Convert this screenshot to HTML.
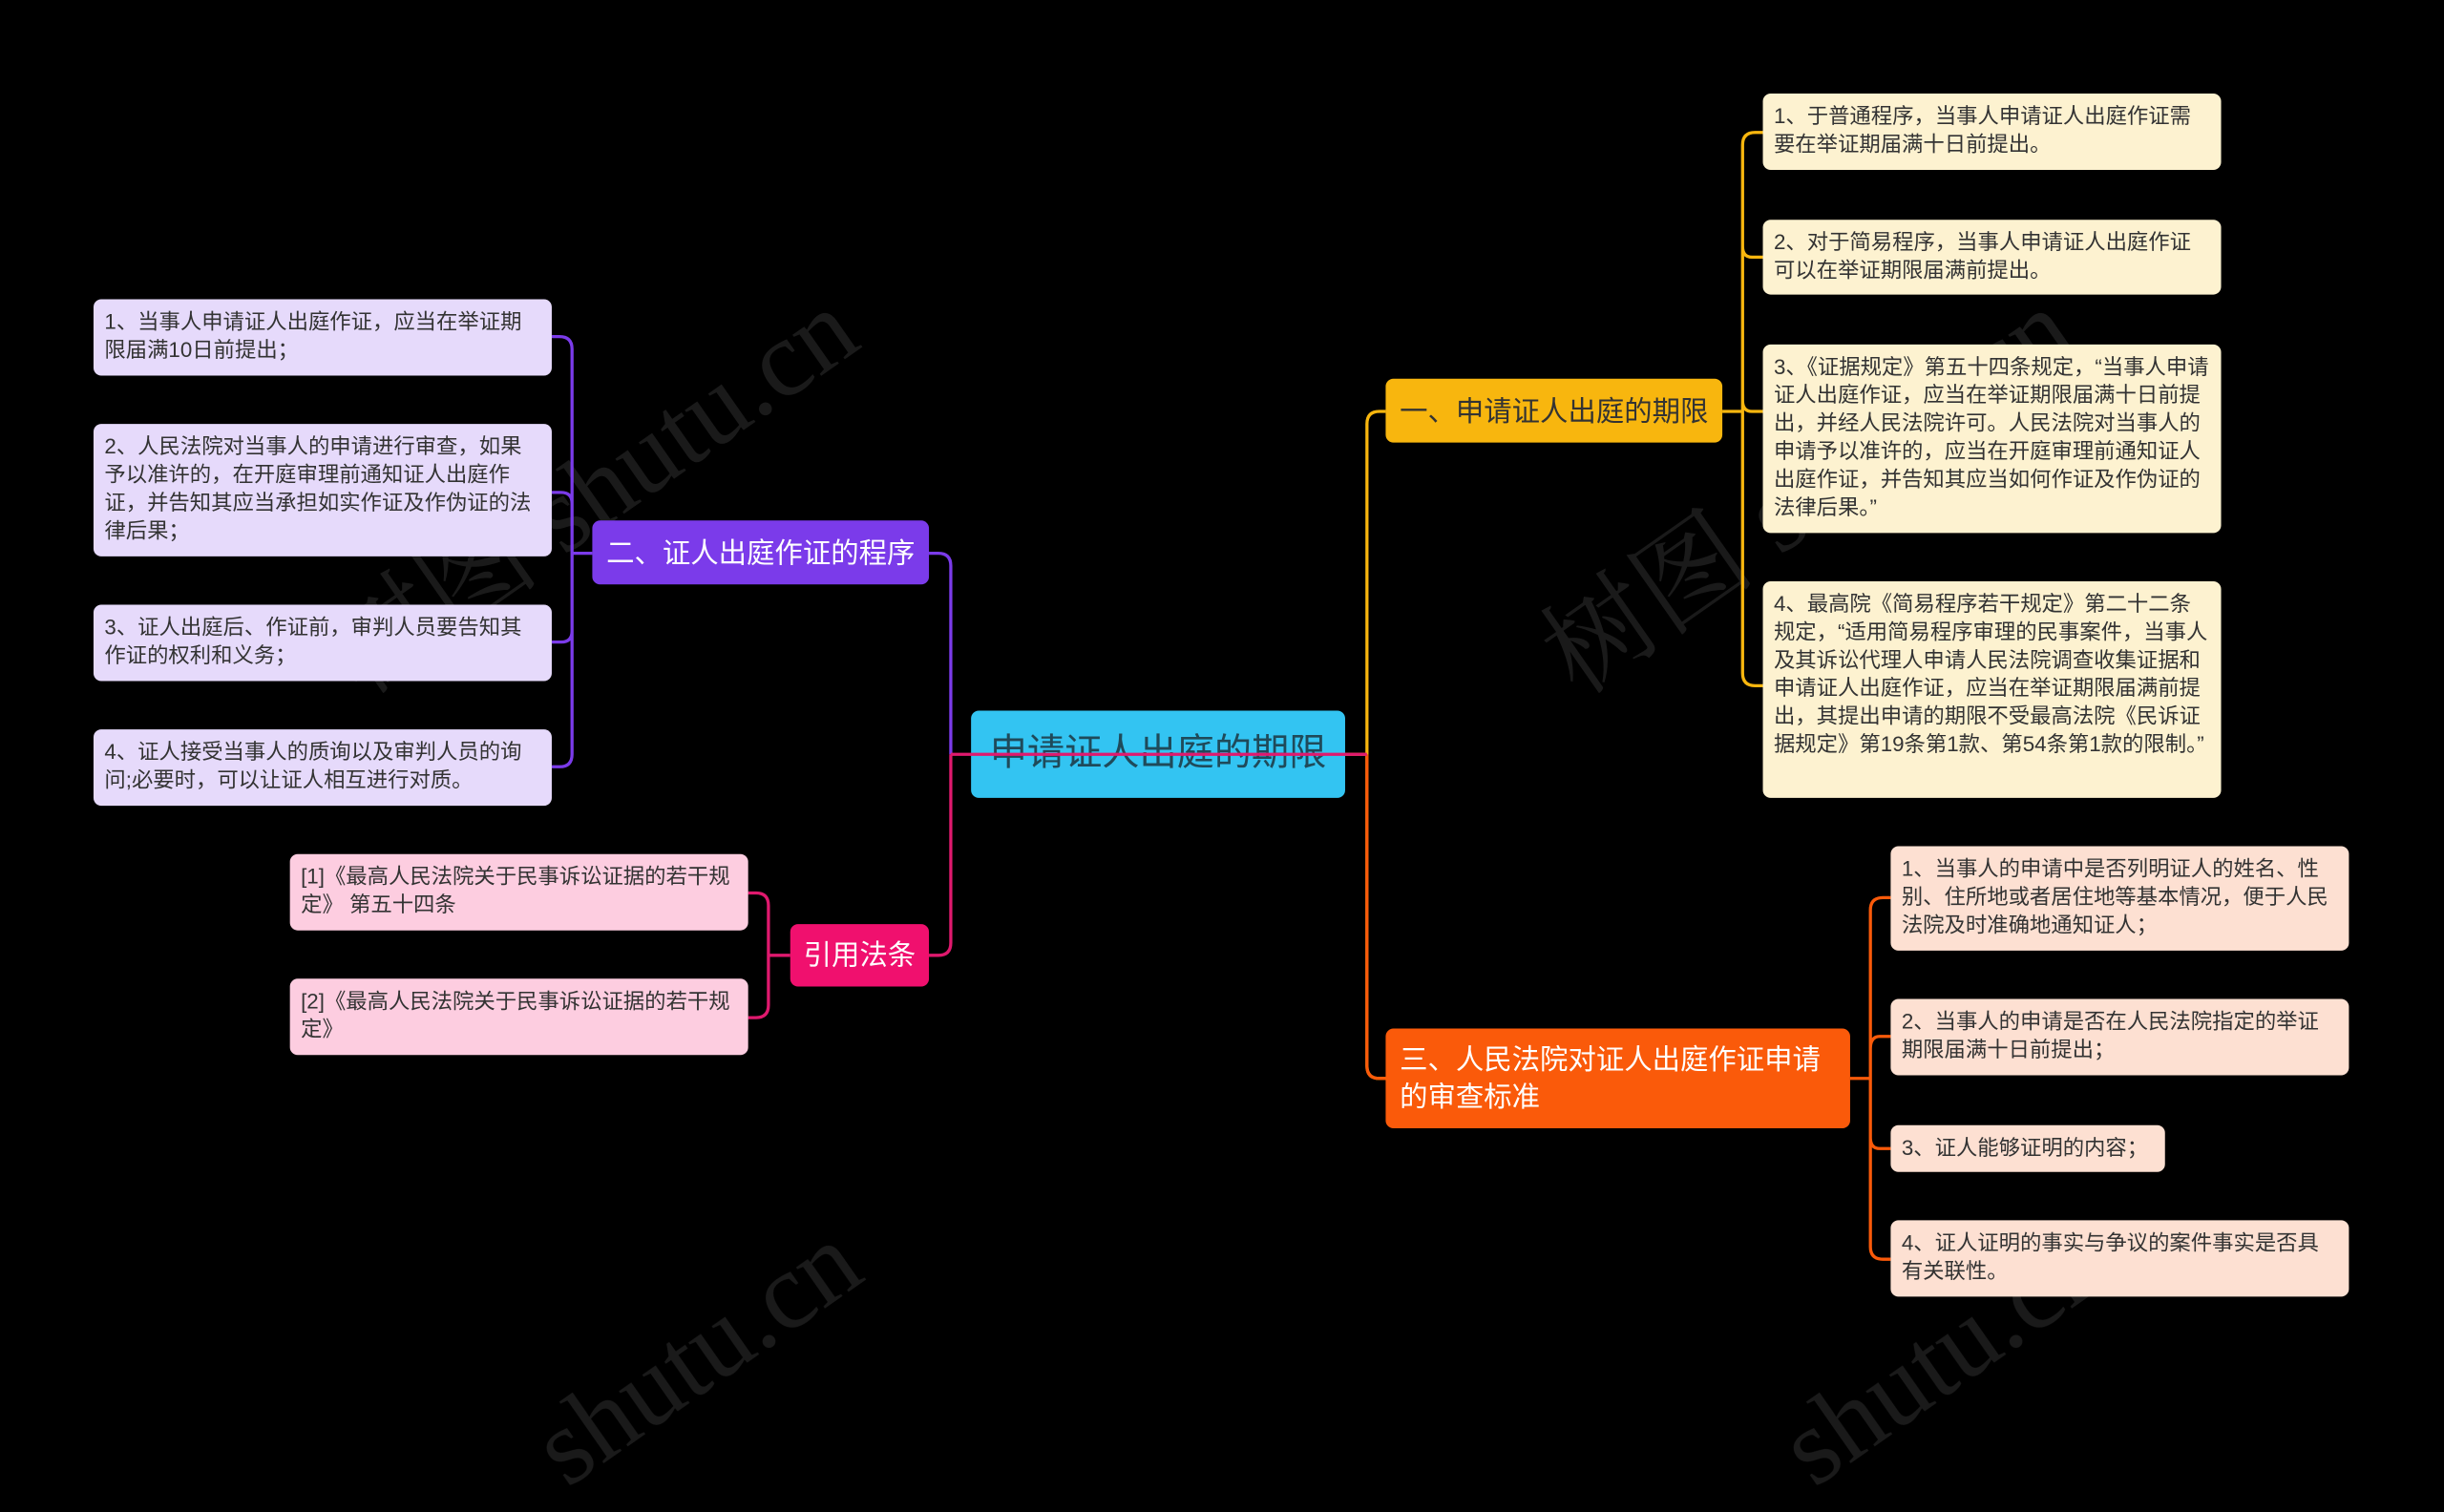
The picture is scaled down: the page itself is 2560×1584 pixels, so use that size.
<!DOCTYPE html>
<html><head><meta charset="utf-8"><style>
html,body{margin:0;padding:0;background:#000;width:2560px;height:1458px;overflow:hidden}
#w{position:absolute;left:0;top:0;width:1568px;height:893px;transform:scale(1.63265);transform-origin:0 0;font-family:"Liberation Sans","Noto Sans CJK SC",sans-serif}
.n{position:absolute;box-sizing:border-box;border-radius:5px;font-size:13.7px;line-height:18px;color:#333;padding:6px 7px;overflow:hidden;letter-spacing:0}
.b{font-size:18px;line-height:24px;padding:0 9px;display:flex;align-items:center}
.wm{position:absolute;color:#1a1a1a;font-size:70px;transform:rotate(-35deg);white-space:nowrap;font-family:"Liberation Serif","Noto Serif CJK SC",serif}
svg{position:absolute;left:0;top:0}
</style></head><body><div id="w">
<div class="wm" style="left:180px;top:260px">树图 shutu.cn</div>
<div class="wm" style="left:960px;top:260px">树图 shutu.cn</div>
<div class="wm" style="left:330px;top:830px">shutu.cn</div>
<div class="wm" style="left:1130px;top:830px">shutu.cn</div>
<svg width="1568" height="893" fill="none" stroke-width="2">
<path d="M863 484H877M877 272V684M877 272Q877 264 885 264H889M877 684Q877 692 885 692H889" stroke="#f8b60e"/>
<path d="M877 484V684Q877 692 885 692H889" stroke="#fa5a0a"/>
<path d="M1105 264H1118M1118 93Q1118 85 1126 85H1131M1118 158Q1118 165 1124 165H1131M1118 93V432Q1118 440 1126 440H1131M1118 257Q1118 264 1124 264H1131" stroke="#f8b60e"/>
<path d="M1187 692H1200M1200 584Q1200 576 1208 576H1213M1200 673Q1200 665 1206 665H1213M1200 584V800Q1200 808 1208 808H1213M1200 730Q1200 737 1206 737H1213" stroke="#fa5a0a"/>
<path d="M596 355H602Q610 355 610 363V484" stroke="#7b3bea"/>
<path d="M610 484V605Q610 613 602 613H596" stroke="#e0196e"/>
<path d="M380 355H367M354 216H359Q367 216 367 224V484Q367 492 359 492H354M354 316H360Q367 316 367 323M354 412H360Q367 412 367 405" stroke="#7b3bea"/>
<path d="M507 613H493M480 573H485Q493 573 493 581V645Q493 653 485 653H480" stroke="#e0196e"/>
</svg>
<div class="n b" style="left:623px;top:456px;width:240px;height:56px;background:#33c4f2;color:#1f4a5a;font-size:24px;justify-content:center">申请证人出庭的期限</div>
<div class="n b" style="left:889px;top:243px;width:216px;height:41px;background:#f8b60e;color:#333">一、申请证人出庭的期限</div>
<div class="n b" style="left:889px;top:660px;width:298px;height:64px;background:#fa5a0a;color:#fff">三、人民法院对证人出庭作证申请的审查标准</div>
<div class="n b" style="left:380px;top:334px;width:216px;height:41px;background:#7b3bea;color:#fff">二、证人出庭作证的程序</div>
<div class="n b" style="left:507px;top:593px;width:89px;height:40px;background:#f0106e;color:#fff;justify-content:center;padding:0;white-space:nowrap">引用法条</div>

<div class="n" style="left:1131px;top:60px;width:294px;height:49px;background:#fdf2d0">1、于普通程序，当事人申请证人出庭作证需要在举证期届满十日前提出。</div>
<div class="n" style="left:1131px;top:141px;width:294px;height:48px;background:#fdf2d0">2、对于简易程序，当事人申请证人出庭作证可以在举证期限届满前提出。</div>
<div class="n" style="left:1131px;top:221px;width:294px;height:121px;background:#fdf2d0">3、《证据规定》第五十四条规定，“当事人申请证人出庭作证，应当在举证期限届满十日前提出，并经人民法院许可。人民法院对当事人的申请予以准许的，应当在开庭审理前通知证人出庭作证，并告知其应当如何作证及作伪证的法律后果。”</div>
<div class="n" style="left:1131px;top:373px;width:294px;height:139px;background:#fdf2d0">4、最高院《简易程序若干规定》第二十二条规定，“适用简易程序审理的民事案件，当事人及其诉讼代理人申请人民法院调查收集证据和申请证人出庭作证，应当在举证期限届满前提出，其提出申请的期限不受最高法院《民诉证据规定》第19条第1款、第54条第1款的限制。”</div>

<div class="n" style="left:1213px;top:543px;width:294px;height:67px;background:#fde0d2">1、当事人的申请中是否列明证人的姓名、性别、住所地或者居住地等基本情况，便于人民法院及时准确地通知证人；</div>
<div class="n" style="left:1213px;top:641px;width:294px;height:49px;background:#fde0d2">2、当事人的申请是否在人民法院指定的举证期限届满十日前提出；</div>
<div class="n" style="left:1213px;top:722px;width:176px;height:30px;background:#fde0d2">3、证人能够证明的内容；</div>
<div class="n" style="left:1213px;top:783px;width:294px;height:49px;background:#fde0d2">4、证人证明的事实与争议的案件事实是否具有关联性。</div>

<div class="n" style="left:60px;top:192px;width:294px;height:49px;background:#e6dafb">1、当事人申请证人出庭作证，应当在举证期限届满10日前提出；</div>
<div class="n" style="left:60px;top:272px;width:294px;height:85px;background:#e6dafb">2、人民法院对当事人的申请进行审查，如果予以准许的，在开庭审理前通知证人出庭作证，并告知其应当承担如实作证及作伪证的法律后果；</div>
<div class="n" style="left:60px;top:388px;width:294px;height:49px;background:#e6dafb">3、证人出庭后、作证前，审判人员要告知其作证的权利和义务；</div>
<div class="n" style="left:60px;top:468px;width:294px;height:49px;background:#e6dafb">4、证人接受当事人的质询以及审判人员的询问;必要时，可以让证人相互进行对质。</div>

<div class="n" style="left:186px;top:548px;width:294px;height:49px;background:#fdcde0">[1]《最高人民法院关于民事诉讼证据的若干规定》 第五十四条</div>
<div class="n" style="left:186px;top:628px;width:294px;height:49px;background:#fdcde0">[2]《最高人民法院关于民事诉讼证据的若干规定》</div>
<svg width="1568" height="893" fill="none" stroke-width="2"><path d="M610 484H877" stroke="#e0196e"/></svg>
</div></body></html>
